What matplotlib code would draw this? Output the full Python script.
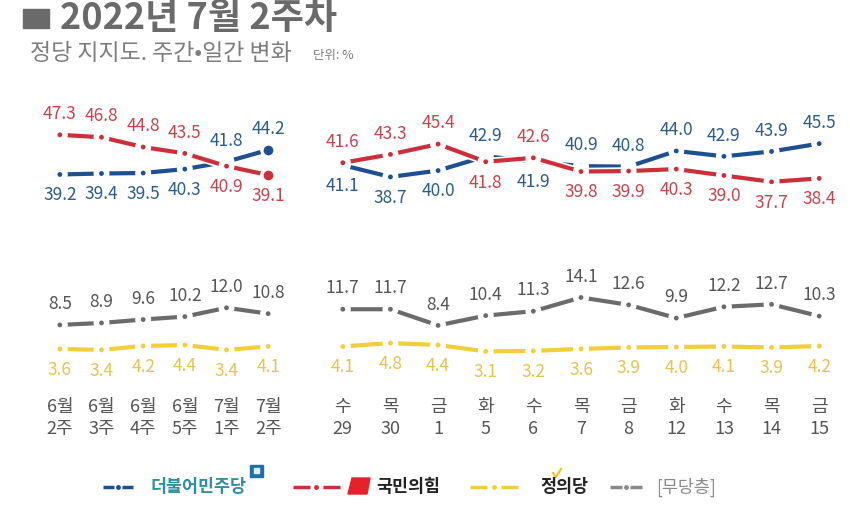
import matplotlib
matplotlib.use("Agg")
import matplotlib.pyplot as plt
import matplotlib.patheffects as pe
from matplotlib.patches import Rectangle, Polygon

plt.rcParams["font.family"] = ["Noto Sans CJK KR", "DejaVu Sans"]

# ============================================================
# DADOS
# ============================================================
weeks = ["6월\n2주", "6월\n3주", "6월\n4주", "6월\n5주", "7월\n1주", "7월\n2주"]
w_dem = [39.2, 39.4, 39.5, 40.3, 41.8, 44.2]
w_ppp = [47.3, 46.8, 44.8, 43.5, 40.9, 39.1]
w_none = [8.5, 8.9, 9.6, 10.2, 12.0, 10.8]
w_jus = [3.6, 3.4, 4.2, 4.4, 3.4, 4.1]

days = ["수\n29", "목\n30", "금\n1", "화\n5", "수\n6", "목\n7",
        "금\n8", "화\n12", "수\n13", "목\n14", "금\n15"]
d_dem = [41.1, 38.7, 40.0, 42.9, 41.9, 40.9, 40.8, 44.0, 42.9, 43.9, 45.5]
d_ppp = [41.6, 43.3, 45.4, 41.8, 42.6, 39.8, 39.9, 40.3, 39.0, 37.7, 38.4]
d_none = [11.7, 11.7, 8.4, 10.4, 11.3, 14.1, 12.6, 9.9, 12.2, 12.7, 10.3]
d_jus = [4.1, 4.8, 4.4, 3.1, 3.2, 3.6, 3.9, 4.0, 4.1, 3.9, 4.2]

# lado do rótulo: 1 = acima, -1 = abaixo
w_dem_side = [-1, -1, -1, -1, 1, 1]
w_ppp_side = [1, 1, 1, 1, -1, -1]
d_dem_side = [-1, -1, -1, 1, -1, 1, 1, 1, 1, 1, 1]
d_ppp_side = [1, 1, 1, -1, 1, -1, -1, -1, -1, -1, -1]

# ============================================================
# ESTILO
# ============================================================
BLUE, BLUE_T = "#1d4f91", "#2a5d8c"
RED, RED_T = "#cc2f3a", "#c8444d"
GRAY, GRAY_T = "#6b6b6b", "#555555"
YEL, YEL_T = "#f2cf3a", "#e3c44c"

fig = plt.figure(figsize=(8.5, 5.12), dpi=100)
fig.patch.set_facecolor("white")

ax_w = fig.add_axes([39 / 850, (512 - 370) / 512, 250 / 850, 270 / 512])
ax_d = fig.add_axes([319 / 850, (512 - 370) / 512, 524 / 850, 270 / 512])


def draw_series(ax, vals, color, tcolor, sides, big_last=False):
    x = list(range(len(vals)))
    ax.plot(x, vals, color=color, lw=3, solid_capstyle="butt",
            marker="o", ms=6, mfc=color, mec="white", mew=2.5, zorder=3,
            path_effects=[pe.Stroke(linewidth=5.5, foreground="white"), pe.Normal()])
    if big_last:
        ax.plot(x[-1], vals[-1], "o", color=color, ms=8.5, mec="white", mew=1.5, zorder=4)
    for i, v in enumerate(vals):
        ax.annotate(f"{v:.1f}", xy=(i, v), xytext=(0, 15 * sides[i]),
                    textcoords="offset points", ha="center", va="center",
                    fontsize=12.5, color=tcolor, zorder=5)


for ax, labels, dem, ppp, none, jus, ds, ps, big in (
        (ax_w, weeks, w_dem, w_ppp, w_none, w_jus, w_dem_side, w_ppp_side, True),
        (ax_d, days, d_dem, d_ppp, d_none, d_jus, d_dem_side, d_ppp_side, False)):
    draw_series(ax, none, GRAY, GRAY_T, [1] * len(none))
    draw_series(ax, jus, YEL, YEL_T, [-1] * len(jus))
    draw_series(ax, dem, BLUE, BLUE_T, ds, big)
    draw_series(ax, ppp, RED, RED_T, ps, big)

    ax.set_xlim(-0.5, len(labels) - 0.5)
    ax.set_ylim(-0.7, 54.4)
    ax.set_xticks(range(len(labels)))
    ax.set_xticklabels(labels, fontsize=13, color="#555555", linespacing=1.3)
    ax.tick_params(axis="x", length=0, pad=20)
    ax.set_yticks([])
    for s in ax.spines.values():
        s.set_visible(False)
    ax.patch.set_alpha(0)

# ============================================================
# TÍTULO E LEGENDA (camada em pixels)
# ============================================================
ov = fig.add_axes([0, 0, 1, 1], zorder=-1)
ov.set_xlim(0, 850)
ov.set_ylim(512, 0)
ov.axis("off")

ov.add_patch(Rectangle((23, 9), 26, 19, color="#6a6a6a"))
ov.text(60, 19, "2022년 7월 2주차", fontsize=26, fontweight="bold",
        color="#6a6a6a", va="center", ha="left")
ov.text(30, 53, "정당 지지도. 주간•일간 변화", fontsize=16.5, color="#7d7d7d",
        va="center", ha="left")
ov.text(313, 55, "단위: %", fontsize=9, color="#7d7d7d", va="center", ha="left")

leg_y = 487
legend_items = [
    (BLUE, 103, 133),
    (RED, 293, 340),
    (YEL, 470, 518),
    ("#8a8a8a", 610, 642),
]
for color, x0, x1 in legend_items:
    seg = (x1 - x0) * 0.36
    ov.plot([x0, x0 + seg], [leg_y, leg_y], color=color, lw=2.5, solid_capstyle="butt")
    ov.plot([x1 - seg, x1], [leg_y, leg_y], color=color, lw=2.5, solid_capstyle="butt")
    ov.plot((x0 + x1) / 2, leg_y, "o", color=color, ms=3.5, mew=0)

ov.text(151, leg_y, "더불어민주당", fontsize=12.5, fontweight="bold",
        color="#2f8f9e", va="center", ha="left")
ov.add_patch(Rectangle((250, 465), 13, 12, color="#1d6fa8"))
ov.add_patch(Rectangle((254, 468), 5, 5, color="#d8eef8"))

ov.add_patch(Polygon([(352, 478), (370, 478), (367, 494), (348, 494)],
                     closed=True, color="#e8202a", joinstyle="round"))
ov.text(376, leg_y, "국민의힘", fontsize=12.5, fontweight="bold",
        color="#222222", va="center", ha="left")

ov.text(540, leg_y, "정의당", fontsize=12.5, fontweight="bold",
        color="#222222", va="center", ha="left")
ov.plot([553, 556, 561], [473, 477, 469], color="#f2c418", lw=1.5)

ov.text(656, leg_y, "[무당층]", fontsize=12.5, color="#8a8a8a",
        va="center", ha="left")

plt.savefig("out.png", dpi=100)
plt.close()
